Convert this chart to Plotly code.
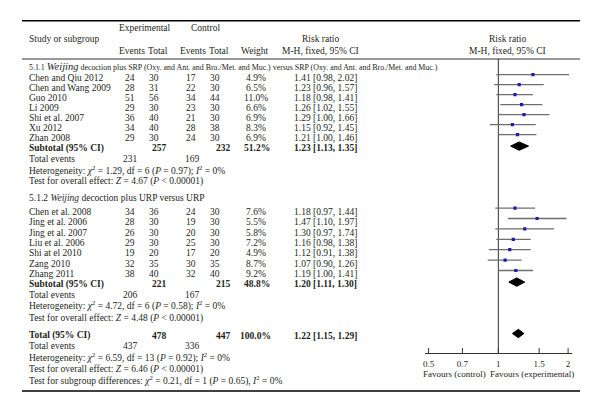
import math
import plotly.graph_objects as go

# ---------------- data ----------------
g1_studies = ["Chen and Qiu 2012", "Chen and Wang 2009", "Guo 2010", "Li 2009",
              "Shi et al. 2007", "Xu 2012", "Zhan 2008"]
g1_exp_events = [24, 28, 51, 29, 36, 34, 29]
g1_exp_total = [30, 31, 56, 30, 40, 40, 30]
g1_ctl_events = [17, 22, 34, 23, 21, 28, 24]
g1_ctl_total = [30, 30, 44, 30, 30, 38, 30]
g1_weight = [4.9, 6.5, 11.0, 6.6, 6.9, 8.3, 6.9]
g1_rr = [1.41, 1.23, 1.18, 1.26, 1.29, 1.15, 1.21]
g1_lo = [0.98, 0.96, 0.98, 1.02, 1.00, 0.92, 1.00]
g1_hi = [2.02, 1.57, 1.41, 1.55, 1.66, 1.45, 1.46]
g1_sub = dict(exp_total=257, ctl_total=232, weight=51.2, rr=1.23, lo=1.13, hi=1.35,
              exp_events=231, ctl_events=169)
g1_het = "Heterogeneity: <i>χ</i><sup>2</sup> = 1.29, df = 6 (<i>P</i> = 0.97); <i>I</i><sup>2</sup> = 0%"
g1_z = "Test for overall effect: <i>Z</i> = 4.67 (<i>P</i> < 0.00001)"

g2_studies = ["Chen et al. 2008", "Jing et al. 2006", "Jing et al. 2007", "Liu et al. 2006",
              "Shi at el 2010", "Zang 2010", "Zhang 2011"]
g2_exp_events = [34, 28, 26, 29, 19, 32, 38]
g2_exp_total = [36, 30, 30, 30, 20, 35, 40]
g2_ctl_events = [24, 19, 20, 25, 17, 30, 32]
g2_ctl_total = [30, 30, 30, 30, 20, 35, 40]
g2_weight = [7.6, 5.5, 5.8, 7.2, 4.9, 8.7, 9.2]
g2_rr = [1.18, 1.47, 1.30, 1.16, 1.12, 1.07, 1.19]
g2_lo = [0.97, 1.10, 0.97, 0.98, 0.91, 0.90, 1.00]
g2_hi = [1.44, 1.97, 1.74, 1.38, 1.38, 1.26, 1.41]
g2_sub = dict(exp_total=221, ctl_total=215, weight=48.8, rr=1.20, lo=1.11, hi=1.30,
              exp_events=206, ctl_events=167)
g2_het = "Heterogeneity: <i>χ</i><sup>2</sup> = 4.72, df = 6 (<i>P</i> = 0.58); <i>I</i><sup>2</sup> = 0%"
g2_z = "Test for overall effect: <i>Z</i> = 4.48 (<i>P</i> < 0.00001)"

tot = dict(exp_total=478, ctl_total=447, weight=100.0, rr=1.22, lo=1.15, hi=1.29,
           exp_events=437, ctl_events=336)
tot_het = "Heterogeneity: <i>χ</i><sup>2</sup> = 6.59, df = 13 (<i>P</i> = 0.92); <i>I</i><sup>2</sup> = 0%"
tot_z = "Test for overall effect: <i>Z</i> = 6.46 (<i>P</i> < 0.00001)"
tot_sub = "Test for subgroup differences: <i>χ</i><sup>2</sup> = 0.21, df = 1 (<i>P</i> = 0.65), <i>I</i><sup>2</sup> = 0%"

g1_title = ("5.1.1 <span style='font-size:10.5px'><i>Weijing</i></span> decoction plus SRP (Oxy. and Ant. and Bro./Met. and Muc.) "
            "versus SRP (Oxy. and Ant. and Bro./Met. and Muc.)")
g2_title = "5.1.2 <i>Weijing</i> decoction plus URP versus URP"

tick_vals = [0.5, 0.7, 1, 1.5, 2]
tick_text = ["0.5", "0.7", "1", "1.5", "2"]

# ---------------- layout positions (pixels) ----------------
W, H = 600, 412
FONT = "Liberation Serif"
TXT = "#231f20"
FS = 9.5

X_STUDY = 26
X_EE, X_ET, X_CE, X_CT, X_W = 128, 153, 190, 214, 255
X_SUB_ET, X_SUB_CT, X_SUB_W = 158, 222, 256
X_RR = 292

g1_y = [78.3 + 10.0 * i for i in range(7)]
g1_sub_y, g1_ev_y, g1_het_y, g1_z_y = 148.3, 159.3, 170.3, 181.7
g2_head_y = 198.3
g2_y = [211.7 + 10.4 * i for i in range(7)]
g2_sub_y, g2_ev_y, g2_het_y, g2_z_y = 284.3, 294.6, 305.7, 318.5
tot_y, tot_ev_y, tot_het_y, tot_z_y, tot_sub_y = 335.7, 346.0, 357.8, 369.0, 380.7
MARK_OFF = -3.6
DIA_OFF = -2.2
AXIS_Y = 353
LINE_TOP = 59

annots = []


def txt(x, y, s, anchor="center", size=FS, bold=False):
    if bold:
        s = "<b>" + s + "</b>"
    annots.append(dict(x=x, y=y, xref="x", yref="y", text=s, showarrow=False,
                       xanchor=anchor, yanchor="middle", borderpad=0,
                       font=dict(family=FONT, size=size, color=TXT)))


def fmt_rr(r, lo, hi):
    return f"{r:.2f} [{lo:.2f}, {hi:.2f}]"


# header
txt(143, 27.5, "Experimental")
txt(204, 27.5, "Control")
txt(X_STUDY, 39, "Study or subgroup", "left")
txt(130, 50.5, "Events")
txt(157, 50.5, "Total")
txt(192, 50.5, "Events")
txt(218, 50.5, "Total")
txt(254, 50.5, "Weight")
txt(320, 39, "Risk ratio")
txt(320, 50.5, "M-H, fixed, 95% CI")
txt(507, 39, "Risk ratio")
txt(507, 50.5, "M-H, fixed, 95% CI")

# group 1
txt(X_STUDY, 66.5, g1_title, "left", size=7.9)
for i, s in enumerate(g1_studies):
    y = g1_y[i]
    txt(X_STUDY, y, s, "left")
    txt(X_EE, y, str(g1_exp_events[i]))
    txt(X_ET, y, str(g1_exp_total[i]))
    txt(X_CE, y, str(g1_ctl_events[i]))
    txt(X_CT, y, str(g1_ctl_total[i]))
    txt(X_W, y, f"{g1_weight[i]:.1f}%")
    txt(X_RR, y, fmt_rr(g1_rr[i], g1_lo[i], g1_hi[i]), "left")
txt(X_STUDY, g1_sub_y, "Subtotal (95% CI)", "left", bold=True)
txt(X_SUB_ET, g1_sub_y, str(g1_sub["exp_total"]), bold=True)
txt(X_SUB_CT, g1_sub_y, str(g1_sub["ctl_total"]), bold=True)
txt(X_SUB_W, g1_sub_y, f"{g1_sub['weight']:.1f}%", bold=True)
txt(X_RR, g1_sub_y, fmt_rr(g1_sub["rr"], g1_sub["lo"], g1_sub["hi"]), "left", bold=True)
txt(X_STUDY, g1_ev_y, "Total events", "left")
txt(X_EE + 1, g1_ev_y, str(g1_sub["exp_events"]))
txt(X_CE + 1, g1_ev_y, str(g1_sub["ctl_events"]))
txt(X_STUDY, g1_het_y, g1_het, "left")
txt(X_STUDY, g1_z_y, g1_z, "left")

# group 2
txt(X_STUDY, g2_head_y, g2_title, "left")
for i, s in enumerate(g2_studies):
    y = g2_y[i]
    txt(X_STUDY, y, s, "left")
    txt(X_EE, y, str(g2_exp_events[i]))
    txt(X_ET, y, str(g2_exp_total[i]))
    txt(X_CE, y, str(g2_ctl_events[i]))
    txt(X_CT, y, str(g2_ctl_total[i]))
    txt(X_W, y, f"{g2_weight[i]:.1f}%")
    txt(X_RR, y, fmt_rr(g2_rr[i], g2_lo[i], g2_hi[i]), "left")
txt(X_STUDY, g2_sub_y, "Subtotal (95% CI)", "left", bold=True)
txt(X_SUB_ET, g2_sub_y, str(g2_sub["exp_total"]), bold=True)
txt(X_SUB_CT, g2_sub_y, str(g2_sub["ctl_total"]), bold=True)
txt(X_SUB_W, g2_sub_y, f"{g2_sub['weight']:.1f}%", bold=True)
txt(X_RR, g2_sub_y, fmt_rr(g2_sub["rr"], g2_sub["lo"], g2_sub["hi"]), "left", bold=True)
txt(X_STUDY, g2_ev_y, "Total events", "left")
txt(X_EE + 1, g2_ev_y, str(g2_sub["exp_events"]))
txt(X_CE + 1, g2_ev_y, str(g2_sub["ctl_events"]))
txt(X_STUDY, g2_het_y, g2_het, "left")
txt(X_STUDY, g2_z_y, g2_z, "left")

# overall
txt(X_STUDY, tot_y, "Total (95% CI)", "left", bold=True)
txt(X_SUB_ET, tot_y, str(tot["exp_total"]), bold=True)
txt(X_SUB_CT, tot_y, str(tot["ctl_total"]), bold=True)
txt(X_SUB_W - 2, tot_y, f"{tot['weight']:.1f}%", bold=True)
txt(X_RR, tot_y, fmt_rr(tot["rr"], tot["lo"], tot["hi"]), "left", bold=True)
txt(X_STUDY, tot_ev_y, "Total events", "left")
txt(X_EE + 1, tot_ev_y, str(tot["exp_events"]))
txt(X_CE + 1, tot_ev_y, str(tot["ctl_events"]))
txt(X_STUDY, tot_het_y, tot_het, "left")
txt(X_STUDY, tot_z_y, tot_z, "left")
txt(X_STUDY, tot_sub_y, tot_sub, "left")

# favours labels
txt(454, 374, "Favours (control)", size=9)
txt(532, 374, "Favours (experimental)", size=9)

# ---------------- forest marks ----------------
fig = go.Figure()

# invisible trace to set up the text axes
fig.add_trace(go.Scatter(x=[0, W], y=[0, H], mode="markers", marker=dict(opacity=0),
                         xaxis="x", yaxis="y", hoverinfo="skip", showlegend=False))

# reference line at 1
fig.add_trace(go.Scatter(x=[1, 1], y=[LINE_TOP, AXIS_Y], mode="lines",
                         line=dict(color="#333", width=1), xaxis="x2", yaxis="y2",
                         hoverinfo="skip", showlegend=False))

all_rr = g1_rr + g2_rr
all_lo = g1_lo + g2_lo
all_hi = g1_hi + g2_hi
all_y = [y + MARK_OFF for y in g1_y + g2_y]

cx, cy = [], []
for lo, hi, y in zip(all_lo, all_hi, all_y):
    cx += [lo, hi, None]
    cy += [y, y, None]
fig.add_trace(go.Scatter(x=cx, y=cy, mode="lines", line=dict(color="#6e6e6e", width=1.3),
                         xaxis="x2", yaxis="y2", hoverinfo="skip", showlegend=False))
fig.add_trace(go.Scatter(x=all_rr, y=all_y, mode="markers",
                         marker=dict(symbol="square", size=3.2, color="#1c1cb4", line=dict(width=0)),
                         xaxis="x2", yaxis="y2", hoverinfo="skip", showlegend=False))

# diamonds
for d, y in [(g1_sub, g1_sub_y), (g2_sub, g2_sub_y), (tot, tot_y)]:
    yc = y + DIA_OFF
    fig.add_trace(go.Scatter(x=[d["lo"], d["rr"], d["hi"], d["rr"], d["lo"]],
                             y=[yc, yc - 4.2, yc, yc + 4.2, yc],
                             mode="lines", fill="toself", fillcolor="black",
                             line=dict(color="black", width=1),
                             xaxis="x2", yaxis="y2", hoverinfo="skip", showlegend=False))

# crossing tick marks
fig.add_trace(go.Scatter(x=tick_vals, y=[AXIS_Y] * len(tick_vals), mode="markers",
                         marker=dict(symbol="line-ns", size=7, line=dict(color="#333", width=1)),
                         xaxis="x2", yaxis="y2", hoverinfo="skip", showlegend=False))

# horizontal rules
shapes = [
    dict(type="line", xref="x", yref="y", x0=20, x1=580, y0=20.7, y1=20.7,
         line=dict(color="black", width=1.5)),
    dict(type="line", xref="x", yref="y", x0=20, x1=580, y0=LINE_TOP, y1=LINE_TOP,
         line=dict(color="black", width=0.8)),
    dict(type="line", xref="x", yref="y", x0=20, x1=580, y0=391, y1=391,
         line=dict(color="black", width=1.5)),
]

pxu = (568 - 428) / (math.log10(2) - math.log10(0.5))
pad = 4 / pxu

fig.update_layout(
    width=W, height=H,
    margin=dict(l=0, r=0, t=0, b=0),
    paper_bgcolor="white", plot_bgcolor="rgba(0,0,0,0)",
    showlegend=False,
    annotations=annots,
    shapes=shapes,
    xaxis=dict(domain=[0, 1], range=[0, W], visible=False, fixedrange=True),
    yaxis=dict(domain=[0, 1], range=[H, 0], visible=False, fixedrange=True),
    xaxis2=dict(type="log", domain=[424 / W, 572 / W],
                range=[math.log10(0.5) - pad, math.log10(2) + pad],
                anchor="y2", showgrid=False, zeroline=False,
                showline=True, linecolor="#333", linewidth=1,
                ticks="outside", ticklen=2, tickcolor="rgba(0,0,0,0)",
                tickvals=tick_vals, ticktext=tick_text,
                tickfont=dict(family=FONT, size=9, color=TXT), fixedrange=True),
    yaxis2=dict(domain=[(H - AXIS_Y) / H, 1], range=[AXIS_Y, 0], visible=False,
                anchor="x2", fixedrange=True),
)

fig.write_html("out.html", config={"displayModeBar": False, "staticPlot": True},
               post_script="document.body.style.margin='0px';document.body.style.padding='0px';"
                           "document.body.style.overflow='hidden';")
